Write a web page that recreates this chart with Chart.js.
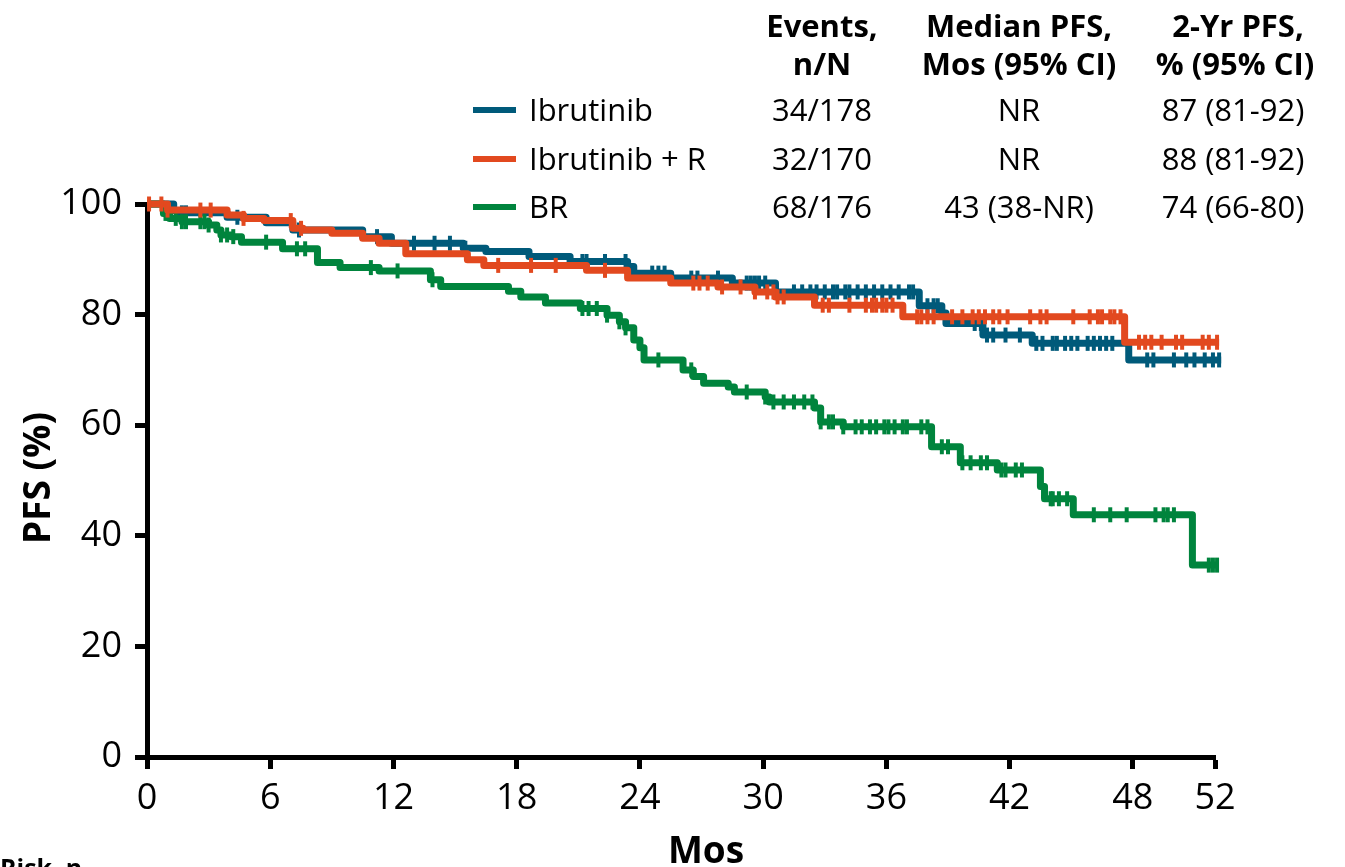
<!DOCTYPE html>
<html>
<head>
<meta charset="utf-8">
<title>PFS</title>
<script src="https://cdn.jsdelivr.net/npm/chart.js@4"></script>
<style>
  html, body { margin: 0; padding: 0; background: #fff; overflow: hidden; }
  #pfsChart { display: block; }
</style>
</head>
<body>
<canvas id="pfsChart" width="1345" height="867"></canvas>
<script>
// KM steps per arm: month of each drop and PFS (%) right after it
const ibrTimes = [0, 1.3, 1.6, 3.9, 5.8, 7.1, 10.5, 11.9, 15.4, 16.5, 18.6, 20.6, 23.4, 23.7, 25.5, 28.5, 30.6, 37.6, 38.7, 38.9, 40.7, 43.1, 47.8, 52.3];
const ibrPfs   = [100, 98.8, 98.4, 97.6, 96.6, 95.3, 94.1, 92.9, 92.0, 91.4, 90.5, 89.6, 88.7, 87.5, 86.6, 85.7, 84.1, 81.6, 80.3, 78.4, 76.3, 74.8, 71.8, 71.8];

const ibrRTimes = [0, 1.0, 3.9, 4.7, 5.7, 7.1, 7.6, 9.0, 10.5, 11.3, 12.6, 15.6, 16.4, 21.4, 23.4, 25.5, 27.8, 29.6, 30.6, 32.5, 36.8, 47.6, 52.2];
const ibrRPfs   = [100, 98.9, 98.0, 97.4, 97.0, 95.6, 95.3, 94.7, 93.8, 92.9, 91.0, 89.9, 88.9, 88.0, 86.6, 85.7, 85.0, 84.1, 83.2, 81.7, 79.6, 75.0, 75.0];

const brTimes = [0, 0.8, 1.1, 1.7, 3.0, 3.4, 3.6, 4.1, 4.6, 6.6, 8.3, 9.4, 11.3, 13.8, 14.3, 17.6, 18.2, 19.4, 21.1, 22.4, 23.0, 23.3, 23.7, 24.0, 24.2, 26.1, 26.6, 27.1, 28.3, 28.6, 30.1, 30.3, 32.5, 32.8, 33.9, 38.2, 39.6, 41.4, 43.5, 43.7, 45.1, 50.9, 52.1];
const brPfs   = [100, 98.3, 97.4, 96.8, 96.2, 95.3, 94.4, 94.1, 93.1, 91.9, 89.4, 88.5, 87.9, 86.3, 85.1, 84.2, 83.2, 82.1, 81.1, 79.9, 78.7, 77.6, 75.4, 74.0, 71.8, 70.0, 68.8, 67.6, 66.9, 66.0, 65.1, 64.2, 63.1, 60.6, 59.7, 56.1, 53.2, 51.9, 48.9, 46.7, 43.8, 34.7, 34.7];

// censored patients (months)
const ibrCensor = [1.7, 1.9, 4.4, 7.4, 11.2, 13.0, 14.0, 14.75, 15.5, 21.2, 21.4, 22.3, 23.3, 24.6, 24.9, 25.2, 26.5, 26.8, 27.8, 29.2, 29.4, 29.6, 29.8, 30.1, 31.5, 31.9, 32.3, 32.6, 33.0, 33.4, 33.6, 34.0, 34.2, 34.6, 35.0, 35.4, 35.8, 36.2, 36.6, 37.1, 37.3, 38.0, 38.3, 38.5, 40.3, 40.6, 40.9, 41.2, 41.8, 42.5, 43.3, 43.6, 44.1, 44.3, 44.7, 45.0, 45.3, 45.8, 46.1, 46.4, 46.7, 47.0, 48.7, 49.0, 50.0, 50.6, 51.0, 51.5, 51.9, 52.2];
const ibrRCensor = [0.1, 0.7, 1.0, 2.6, 3.1, 4.7, 7.0, 7.5, 17.1, 18.7, 19.9, 22.3, 26.6, 26.9, 27.3, 28.0, 28.9, 29.6, 30.2, 30.5, 30.7, 31.0, 32.9, 33.2, 34.2, 35.0, 35.3, 35.5, 35.8, 36.0, 36.3, 37.5, 37.7, 38.0, 38.3, 39.2, 39.7, 40.2, 40.5, 40.8, 41.2, 41.5, 41.9, 43.0, 43.5, 43.8, 45.1, 45.9, 46.3, 46.5, 46.9, 47.1, 47.4, 48.3, 48.6, 48.9, 49.4, 50.1, 50.4, 51.4, 51.7, 52.1];
const brCensor = [0.9, 1.0, 1.4, 1.7, 1.9, 2.6, 2.8, 3.0, 3.6, 3.9, 4.2, 5.8, 7.3, 7.7, 10.9, 12.2, 13.9, 21.2, 21.5, 21.9, 22.4, 23.0, 23.3, 24.9, 26.5, 29.2, 30.1, 30.5, 31.0, 31.5, 32.0, 32.4, 32.8, 33.2, 33.4, 33.9, 34.5, 34.8, 35.2, 35.5, 35.9, 36.1, 36.4, 36.8, 37.0, 37.7, 38.0, 38.7, 39.0, 39.7, 40.1, 40.6, 40.9, 41.6, 41.8, 42.3, 42.6, 44.0, 44.1, 44.4, 44.8, 46.1, 46.9, 47.7, 49.1, 49.5, 49.7, 50.0, 51.7, 51.9, 52.1];

const xTickValues = [0, 6, 12, 18, 24, 30, 36, 42, 48, 52];
const yTickValues = [0, 20, 40, 60, 80, 100];

// summary table beside the legend
const armNames   = ['Ibrutinib', 'Ibrutinib + R', 'BR'];
const armEvents  = ['34/178', '32/170', '68/176'];
const armMedian  = ['NR', 'NR', '43 (38-NR)'];
const armTwoYear = ['87 (81-92)', '88 (81-92)', '74 (66-80)'];

const BLUE = '#005a7a';
const ORANGE = '#e2491f';
const GREEN = '#00843d';
const armColors = [BLUE, ORANGE, GREEN];
const FONT = '"Open Sans", "Noto Sans", sans-serif';

function stepValue(times, pfs, t) {
  let v = pfs[0];
  for (let i = 0; i < times.length; i++) {
    if (times[i] <= t) v = pfs[i];
  }
  return v;
}

function curve(times, pfs, color, order) {
  return {
    data: times.map((t, i) => ({ x: t, y: pfs[i] })),
    borderColor: color,
    borderWidth: 7,
    borderJoinStyle: 'round',
    stepped: true,
    pointRadius: 0,
    fill: false,
    clip: false,
    order
  };
}

function censorMarks(censor, times, pfs, color, order) {
  return {
    data: censor.map(t => ({ x: t, y: stepValue(times, pfs, t) })),
    showLine: false,
    pointStyle: 'line',
    pointRotation: 90,
    pointRadius: 7.5,
    pointBorderWidth: 4,
    pointBorderColor: color,
    pointBackgroundColor: color,
    clip: false,
    order
  };
}

const tableText = {
  id: 'tableText',
  afterDraw(chart) {
    const ctx = chart.ctx;
    ctx.save();
    ctx.fillStyle = '#000';
    ctx.textBaseline = 'alphabetic';

    // column headers
    ctx.font = 'bold 31px ' + FONT;
    ctx.textAlign = 'center';
    ctx.fillText('Events,', 822, 37);
    ctx.fillText('n/N', 822, 75);
    ctx.fillText('Median PFS,', 1019, 37);
    ctx.fillText('Mos (95% CI)', 1019, 75);
    ctx.fillText('2-Yr PFS,', 1238, 37);
    ctx.fillText('% (95% CI)', 1235, 75);

    // one row per arm
    const rowY = [121, 170, 218];
    ctx.font = '31px ' + FONT;
    armNames.forEach((name, i) => {
      const y = rowY[i];
      ctx.strokeStyle = armColors[i];
      ctx.lineWidth = 6;
      ctx.beginPath();
      ctx.moveTo(473, y - 11);
      ctx.lineTo(516, y - 11);
      ctx.stroke();

      ctx.textAlign = 'left';
      ctx.fillText(name, 529, y);
      ctx.textAlign = 'center';
      ctx.fillText(armEvents[i], 822, y);
      ctx.fillText(armMedian[i], 1019, y);
      ctx.fillText(armTwoYear[i], 1233, y);
    });

    // axis titles
    ctx.font = 'bold 37px ' + FONT;
    ctx.textAlign = 'center';
    ctx.fillText('Mos', 706, 863);

    ctx.save();
    ctx.translate(50, 478);
    ctx.rotate(-Math.PI / 2);
    ctx.fillText('PFS (%)', 0, 0);
    ctx.restore();

    ctx.font = 'bold 25px ' + FONT;
    ctx.textAlign = 'left';
    ctx.fillText('Risk, n', 0, 877);
    ctx.restore();
  }
};

document.addEventListener('DOMContentLoaded', () => {
  const ctx = document.getElementById('pfsChart').getContext('2d');

  new Chart(ctx, {
    type: 'line',
    data: {
      datasets: [
        censorMarks(ibrRCensor, ibrRTimes, ibrRPfs, ORANGE, 0),
        curve(ibrRTimes, ibrRPfs, ORANGE, 1),
        censorMarks(brCensor, brTimes, brPfs, GREEN, 2),
        curve(brTimes, brPfs, GREEN, 3),
        censorMarks(ibrCensor, ibrTimes, ibrPfs, BLUE, 4),
        curve(ibrTimes, ibrPfs, BLUE, 5)
      ]
    },
    options: {
      responsive: false,
      animation: false,
      devicePixelRatio: 1,
      events: [],
      layout: { padding: { top: 204, right: 130, left: 0, bottom: 0 } },
      plugins: {
        legend: { display: false },
        tooltip: { enabled: false }
      },
      scales: {
        x: {
          type: 'linear',
          min: 0,
          max: 52,
          afterBuildTicks: scale => { scale.ticks = xTickValues.map(v => ({ value: v })); },
          afterFit: scale => { scale.height = 110; },
          border: { display: true, color: '#000', width: 5 },
          grid: { drawOnChartArea: false, drawTicks: true, tickLength: 12, tickWidth: 5, tickColor: '#000' },
          ticks: { color: '#000', font: { family: FONT, size: 36 }, padding: 8, maxRotation: 0, autoSkip: false }
        },
        y: {
          min: 0,
          max: 100,
          afterBuildTicks: scale => { scale.ticks = yTickValues.map(v => ({ value: v })); },
          afterFit: scale => { scale.width = 147; },
          border: { display: true, color: '#000', width: 5 },
          grid: { drawOnChartArea: false, drawTicks: true, tickLength: 12, tickWidth: 5, tickColor: '#000' },
          ticks: { color: '#000', font: { family: FONT, size: 36 }, padding: 13 }
        }
      }
    },
    plugins: [tableText]
  });
});
</script>
</body>
</html>
